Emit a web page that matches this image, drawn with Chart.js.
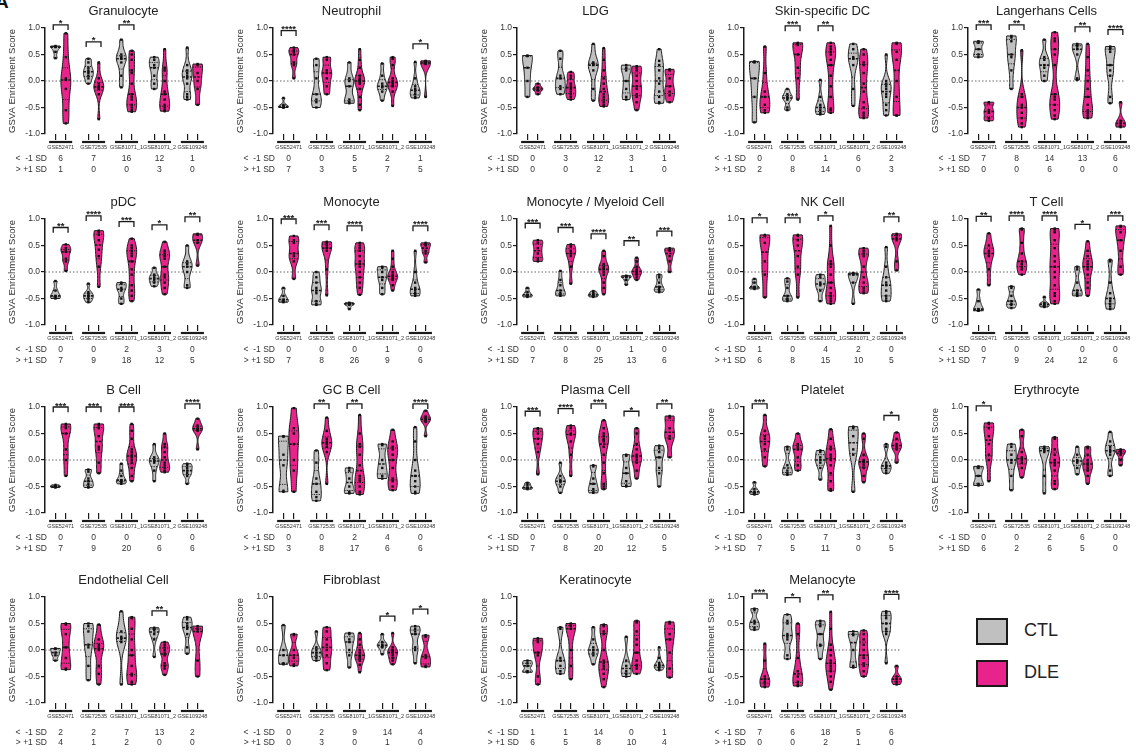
<!DOCTYPE html>
<html lang="en">
<head>
<meta charset="UTF-8">
<title>GSVA Enrichment Scores, CTL vs DLE</title>
<script src="https://cdn.jsdelivr.net/npm/chart.js"></script>
<style>
    body { margin: 0; width: 1136px; height: 752px; overflow: hidden; position: relative; background: #fff;
           font-family: "Liberation Sans", Arial, Helvetica, sans-serif; }
    canvas { position: absolute; }
    .tag { position: absolute; left: -5px; top: -9px; font-size: 19px; font-weight: bold; color: #111; }
    .key { position: absolute; left: 976px; width: 28px; height: 23px; border: 2.5px solid #1a1a1a; }
    .keyLabel { position: absolute; left: 1024px; font-size: 18px; color: #222; }
</style>
</head>
<body>
<div class="tag">A</div>
<div class="key" style="top:618px; background:#c0c0c0"></div>
<div class="keyLabel" style="top:620px">CTL</div>
<div class="key" style="top:660px; background:#e8238b"></div>
<div class="keyLabel" style="top:662px">DLE</div>

<script>
const titles = ['Granulocyte', 'Neutrophil', 'LDG', 'Skin-specific DC', 'Langerhans Cells',
    'pDC', 'Monocyte', 'Monocyte / Myeloid Cell', 'NK Cell', 'T Cell',
    'B Cell', 'GC B Cell', 'Plasma Cell', 'Platelet', 'Erythrocyte',
    'Endothelial Cell', 'Fibroblast', 'Keratinocyte', 'Melanocyte'];
const groups = ['GSE52471', 'GSE72535', 'GSE81071_1', 'GSE81071_2', 'GSE109248'];

// scores per panel, per dataset
const ctlScores = [
    [[0.66,0.65,0.64,0.55,0.43], [0.42,0.35,0.25,0.2,0.15,0.1,0.05,-0.05], [0.78,0.5,0.45,0.42,0.35,0.1,-0.12], [0.45,0.4,0.3,0.25,0.1,-0.05,-0.15], [0.63,0.3,0.2,0.15,0.1,0.05,-0.05,-0.25,-0.3,-0.35]],
    [[-0.32,-0.45,-0.48,-0.5,-0.5], [0.42,0.3,0.05,-0.25,-0.35,-0.4,-0.5], [0.35,0.05,0,-0.1,-0.35,-0.4,-0.42], [0.33,0.1,-0.05,-0.1,-0.12,-0.2,-0.37], [0.36,0.05,-0.1,-0.15,-0.2,-0.25,-0.3,-0.32]],
    [[0.48,0.47,0.25,0,-0.3], [0.57,0.42,0.1,0.05,-0.1,-0.15,-0.25], [0.7,0.35,0.32,0.3,0.2,-0.15,-0.37], [0.3,0.25,0.2,0,-0.15,-0.3,-0.35], [0.6,0.38,0.3,0.2,0.05,-0.05,-0.2,-0.3,-0.4,-0.42]],
    [[0.37,0.35,0.05,-0.3,-0.78], [-0.15,-0.25,-0.3,-0.32,-0.35,-0.5,-0.55], [0.02,-0.3,-0.45,-0.5,-0.55,-0.6,-0.63], [0.7,0.6,0.45,0.42,0.3,-0.15,-0.47], [0.5,0,-0.05,-0.1,-0.15,-0.25,-0.3,-0.45,-0.55,-0.65]],
    [[0.75,0.72,0.6,0.5,0.45], [0.85,0.82,0.75,0.5,0.45,0.2,-0.15], [0.78,0.45,0.4,0.3,0.25,0.1,0], [0.7,0.68,0.65,0.6,0.5,0.05,0.02], [0.65,0.62,0.6,0.55,0.3,0.2,0.1,-0.3,-0.42]],
    [[-0.17,-0.35,-0.45,-0.47,-0.5], [-0.22,-0.38,-0.42,-0.45,-0.48,-0.52,-0.57], [-0.2,-0.22,-0.3,-0.35,-0.5,-0.6], [0.08,-0.05,-0.1,-0.15,-0.2,-0.27], [0.5,0.2,0.15,0.1,0,-0.25,-0.3]],
    [[-0.3,-0.45,-0.52,-0.55,-0.57], [0,-0.1,-0.2,-0.3,-0.35,-0.4,-0.55,-0.6,-0.62], [-0.58,-0.6,-0.6,-0.62,-0.7], [0.1,0.08,0,-0.1,-0.15,-0.3,-0.42], [0.4,0,-0.2,-0.3,-0.35,-0.4,-0.42,-0.45]],
    [[-0.3,-0.38,-0.43,-0.45,-0.47], [0.02,-0.15,-0.25,-0.35,-0.4,-0.43,-0.45], [-0.36,-0.4,-0.43,-0.45,-0.47], [-0.07,-0.08,-0.1,-0.15,-0.24], [-0.05,-0.1,-0.2,-0.28,-0.32,-0.35,-0.38]],
    [[-0.13,-0.2,-0.28,-0.3,-0.32], [-0.12,-0.18,-0.3,-0.45,-0.5,-0.52,-0.55], [-0.05,-0.1,-0.2,-0.25,-0.35,-0.55], [-0.02,-0.03,-0.05,-0.2,-0.6], [0.47,0.1,-0.1,-0.2,-0.25,-0.35,-0.45,-0.5,-0.55]],
    [[-0.33,-0.55,-0.7,-0.73,-0.73], [-0.27,-0.3,-0.45,-0.55,-0.6,-0.62,-0.68], [-0.47,-0.58,-0.6,-0.62,-0.65,-0.66], [0.1,0.05,-0.2,-0.35,-0.4,-0.43,-0.45], [0.23,0.2,-0.2,-0.4,-0.5,-0.55,-0.6,-0.65,-0.7]],
    [[-0.47,-0.5,-0.5,-0.52], [-0.18,-0.22,-0.35,-0.4,-0.45,-0.5,-0.52], [-0.07,-0.2,-0.3,-0.38,-0.4,-0.42,-0.45], [0.3,0.05,0,-0.02,-0.05,-0.2,-0.4], [-0.07,-0.1,-0.15,-0.2,-0.25,-0.3,-0.45]],
    [[0.45,0.44,0.1,-0.1,-0.58,-0.6], [0.18,-0.05,-0.35,-0.45,-0.6,-0.7,-0.77], [-0.15,-0.2,-0.35,-0.5,-0.6,-0.63], [0.3,0.28,0,-0.15,-0.3,-0.35], [0.62,0.35,0,-0.2,-0.3,-0.4,-0.5,-0.6,-0.63]],
    [[-0.43,-0.47,-0.52,-0.53,-0.55], [-0.05,-0.3,-0.38,-0.4,-0.42,-0.5,-0.62], [-0.1,-0.12,-0.35,-0.45,-0.55,-0.6,-0.62], [0.1,0.08,-0.15,-0.25,-0.4,-0.48,-0.5], [0.27,0.22,0.15,0.05,-0.15,-0.25,-0.5]],
    [[-0.42,-0.55,-0.6,-0.62,-0.65], [0.25,0.2,-0.1,-0.2,-0.25,-0.28], [0.18,0.15,0.05,0,-0.05,-0.15,-0.37], [0.63,0.6,0.45,0.2,0.1,-0.6], [0.3,0.25,-0.05,-0.1,-0.12,-0.15,-0.2,-0.25]],
    [[-0.12,-0.15,-0.3,-0.45,-0.48], [0.3,0.25,0.1,0,-0.05,-0.3,-0.57], [0.25,0.22,0.2,0.15,-0.3,-0.63], [0.25,0.1,0,-0.02,-0.05,-0.15,-0.27], [0.53,0.35,0.25,0.2,0.15,0.1,-0.2,-0.3]],
    [[0.03,0.02,-0.05,-0.1,-0.2], [0.5,0.45,0.35,0.1,0.05,-0.3,-0.57], [0.73,0.35,0.25,0.2,0.15,-0.65], [0.42,0.4,0.38,0.3,0.2,-0.13], [0.62,0.58,0.5,0.45,0.4,0.3,0.05,-0.07]],
    [[0.47,0,-0.1,-0.25,-0.27], [0.35,0.05,0,-0.05,-0.1,-0.15,-0.2], [0.32,0.3,0.2,0.15,0,-0.1,-0.33], [0.3,0.15,0.1,0.08,0.05,-0.08], [0.45,0.4,0.35,0.3,0.05,0,-0.25]],
    [[-0.2,-0.25,-0.3,-0.4,-0.42], [0.43,0.4,-0.15,-0.2,-0.3,-0.4,-0.45], [0.43,0.2,0.05,0,-0.05,-0.1,-0.27], [0.25,-0.2,-0.3,-0.4,-0.45,-0.5], [0.05,-0.15,-0.25,-0.28,-0.3,-0.32,-0.35,-0.38]],
    [[0.78,0.75,0.55,0.5,0.42,0.38], [0.67,0.55,0.5,0.3,0.25,0.2,-0.1,-0.17], [0.55,0.5,0.45,0.3,0.1,0.08,-0.17], [0.35,0.3,0.28,0,-0.3,-0.33], [0.73,0.7,0.65,0.6,0.5,0.4,0.35,0.3,-0.25]]
];
const dleScores = [
    [[0.9,0.45,0.05,0.02,-0.15,-0.55,-0.8], [0.35,0.05,-0.05,-0.1,-0.12,-0.15,-0.25,-0.72], [0.57,0.5,0.4,0.2,0.15,-0.05,-0.25,-0.3,-0.35,-0.45,-0.5,-0.55,-0.58], [0.6,0.25,0.2,0,-0.2,-0.25,-0.35,-0.45,-0.5,-0.55,-0.57], [0.32,0.3,0.15,0,-0.15,-0.45]],
    [[0.63,0.58,0.55,0.5,0.35,0.3,0.05], [0.45,0.4,0.2,0.15,0.05,-0.1,-0.25], [0.6,0.4,0.25,0.1,0.05,0.02,0,-0.02,-0.05,-0.15,-0.3,-0.45,-0.55], [0.45,0.42,0.3,0.05,0,-0.05,-0.08,-0.1,-0.2,-0.47], [0.38,0.36,0.35,0.33,0.32,-0.3]],
    [[-0.05,-0.12,-0.15,-0.18,-0.25], [0.17,0.1,0.05,-0.05,-0.1,-0.15,-0.2,-0.25,-0.3,-0.35], [0.62,0.4,0.2,0.05,-0.05,-0.15,-0.25,-0.3,-0.35,-0.4,-0.45,-0.48], [0.28,0.25,0.2,0.1,0,-0.1,-0.15,-0.25,-0.3,-0.4,-0.55], [0.22,0.2,0.05,-0.1,-0.2,-0.27,-0.4]],
    [[0.65,0.15,-0.2,-0.3,-0.45,-0.55,-0.6], [0.72,0.7,0.68,0.5,0.25,0.05,-0.35], [0.72,0.65,0.6,0.55,0.5,0.4,0.3,0.1,-0.1,-0.3,-0.52,-0.55,-0.6], [0.6,0.5,0.35,0.3,0.15,-0.05,-0.2,-0.4,-0.5,-0.6,-0.65,-0.7], [0.72,0.7,0.55,0.4,0,-0.3,-0.65,-0.65]],
    [[-0.4,-0.42,-0.55,-0.6,-0.7,-0.75], [0.58,-0.25,-0.3,-0.45,-0.5,-0.6,-0.7,-0.8,-0.87], [0.92,0.8,0.75,0.6,0.5,0.3,-0.25,-0.3,-0.35,-0.45,-0.55,-0.65,-0.72], [0.7,0.45,0.2,0,-0.15,-0.3,-0.45,-0.55,-0.6,-0.65,-0.7], [-0.4,-0.75,-0.8,-0.85,-0.87]],
    [[0.52,0.45,0.4,0.38,0.25,0.2,0.02], [0.78,0.75,0.7,0.6,0.42,0.3,0.1,-0.28], [0.63,0.5,0.45,0.4,0.35,0.3,0.2,0.05,-0.05,-0.25,-0.35,-0.45,-0.55], [0.57,0.4,0.35,0.3,0.25,0.1,-0.05,-0.1,-0.2,-0.3,-0.42], [0.72,0.7,0.6,0.55,0.12]],
    [[0.68,0.6,0.55,0.35,0.3,0.2,-0.13], [0.57,0.55,0.5,0.45,0.4,0.05,-0.44], [0.55,0.5,0.45,0.4,0.3,0.2,0.15,0.1,0,-0.1,-0.2,-0.3,-0.43], [0.4,0.25,0.1,0,-0.05,-0.08,-0.1,-0.12,-0.15,-0.25,-0.35], [0.55,0.52,0.5,0.4,0.35,0.18]],
    [[0.6,0.55,0.45,0.35,0.25,0.2], [0.52,0.48,0.4,0.35,0.3,0.1,-0.22], [0.4,0.3,0.15,0.1,0.08,0.05,0,-0.05,-0.2,-0.3,-0.42], [0.27,0.2,0.1,0.05,0.02,0,-0.02,-0.05,-0.1,-0.15], [0.45,0.42,0.4,0.3,0.2,0]],
    [[0.7,0.68,0.55,0.2,-0.05,-0.48], [0.7,0.68,0.6,0.5,0.3,0.1,-0.05,-0.48], [0.87,0.5,0.2,0.15,0.1,-0.05,-0.2,-0.3,-0.4,-0.45,-0.5,-0.55,-0.6], [0.45,0.4,0.35,0.3,0.1,-0.1,-0.2,-0.3,-0.35,-0.4], [0.72,0.7,0.65,0.6,0.2,0.03]],
    [[0.73,0.5,0.4,0.35,0.3,0.05,-0.25], [0.82,0.8,0.55,0.35,0.2,0.15,0.1,0.05,-0.05], [0.82,0.8,0.75,0.6,0.45,0.3,0.2,0.1,0,-0.1,-0.25,-0.4,-0.45,-0.55,-0.6], [0.58,0.4,0.3,0.2,0.15,0.1,0.05,-0.05,-0.2,-0.3,-0.45], [0.87,0.85,0.75,0.6,0.4,0.1,-0.05]],
    [[0.68,0.65,0.6,0.5,0.2,0,-0.3], [0.68,0.65,0.6,0.45,0.25,0.2,-0.05,-0.25], [0.68,0.55,0.4,0.2,0.15,0.1,0.05,0,-0.05,-0.15,-0.3,-0.4], [0.5,0.3,0.25,0.15,0.05,-0.05,-0.1,-0.15,-0.2,-0.23], [0.78,0.65,0.6,0.58,0.55,0.2]],
    [[0.98,0.6,0.5,0.3,0,-0.2,-0.6], [0.8,0.55,0.4,0.35,0.3,0.25,0.15,-0.45], [0.85,0.5,0.3,0.25,0.1,-0.1,-0.3,-0.35,-0.4,-0.5,-0.6,-0.65], [0.57,0.35,0.25,0.2,0.1,0,-0.15,-0.35,-0.4,-0.5,-0.57], [0.93,0.82,0.78,0.76,0.72,0.45]],
    [[0.6,0.58,0.5,0.4,0.3,0.15,-0.27], [0.65,0.6,0.5,0.48,0.35,0.1,-0.3], [0.75,0.6,0.5,0.45,0.4,0.38,0.35,0.25,0.1,-0.05,-0.25,-0.45,-0.5,-0.55], [0.6,0.5,0.3,0.2,0.1,0.05,0,-0.05,-0.2,-0.35], [0.83,0.8,0.6,0.45,0.4,0.05]],
    [[0.85,0.55,0.45,0.4,0.3,0.2,0.05,-0.12], [0.5,0.3,0.25,0.2,0.05,-0.1,-0.2], [0.58,0.4,0.25,0.2,0.1,0.05,0,-0.1,-0.25,-0.4,-0.55,-0.58], [0.5,0.4,0.1,0,-0.02,-0.05,-0.1,-0.15,-0.3,-0.42], [0.52,0.4,0.3,0.25,0.2,-0.05]],
    [[0.7,0.68,0.6,0.45,0.3,0.1,0,-0.4], [0.57,0.45,0.15,0.05,0,-0.05,-0.15,-0.33], [0.43,0.4,0.2,0.1,0,-0.05,-0.1,-0.2,-0.4,-0.45,-0.55], [0.25,0.22,0.1,0,-0.05,-0.1,-0.15,-0.2,-0.3,-0.45], [0.2,0.17,0.15,0.1,0,-0.1]],
    [[0.5,0.48,0.3,0.05,-0.15,-0.35,-0.37], [0.48,0.2,0.1,0.05,0,-0.3,-0.45,-0.65], [0.62,0.6,0.4,0.2,0,-0.1,-0.3,-0.45,-0.48,-0.6,-0.65], [0.15,0.1,0.05,0,-0.05,-0.1,-0.25,-0.3,-0.35,-0.47], [0.45,0.4,0.35,-0.2,-0.5]],
    [[0.3,0.28,0,-0.1,-0.15,-0.27,-0.3], [0.43,0.35,0.2,0.1,0,-0.1,-0.25,-0.38], [0.32,0.2,0.1,0,-0.05,-0.1,-0.12,-0.15,-0.2,-0.28,-0.42], [0.32,0.05,0,-0.02,-0.05,-0.1,-0.15,-0.2,-0.27], [0.28,0.25,-0.1,-0.15,-0.3,-0.32]],
    [[0.22,0.2,0.15,-0.05,-0.1,-0.5,-0.65], [0.5,0.47,0.45,0.4,0,-0.3,-0.55], [0.48,0.45,0.35,0.3,0,-0.2,-0.25,-0.3,-0.35,-0.45,-0.55,-0.7], [0.55,0.52,0.35,0.2,0.1,-0.05,-0.2,-0.28,-0.3,-0.35,-0.45], [0.53,0.5,0.3,0.2,-0.05,-0.35,-0.52]],
    [[0.12,-0.2,-0.5,-0.55,-0.6,-0.65,-0.7], [0.5,0.3,-0.15,-0.4,-0.5,-0.6,-0.65,-0.68], [0.72,0.4,0.1,0,-0.1,-0.2,-0.25,-0.3,-0.35,-0.4,-0.5,-0.6,-0.75], [0.37,0.3,0.2,0.1,0,-0.1,-0.15,-0.25,-0.3,-0.4,-0.5], [-0.3,-0.5,-0.55,-0.6,-0.65]]
];
const stars = [
    ['*', '*', '**', '', ''], ['****', '', '', '', '*'], ['', '', '', '', ''], ['', '***', '**', '', ''], ['***', '**', '', '**', '****'],
    ['**', '****', '***', '*', '**'], ['***', '***', '****', '', '****'], ['***', '***', '****', '**', '***'], ['*', '***', '*', '', '**'], ['**', '****', '****', '*', '***'],
    ['***', '***', '****', '', '****'], ['', '**', '**', '', '****'], ['***', '****', '***', '*', '**'], ['***', '', '', '', '*'], ['*', '', '', '', ''],
    ['', '', '', '**', ''], ['', '', '', '*', '*'], ['', '', '', '', ''], ['***', '*', '**', '', '****']
];
const belowSD = [
    [6, 7, 16, 12, 1], [0, 0, 5, 2, 1], [0, 3, 12, 3, 1], [0, 0, 1, 6, 2], [7, 8, 14, 13, 6],
    [0, 0, 2, 3, 0], [0, 0, 0, 1, 0], [0, 0, 0, 1, 0], [1, 0, 4, 2, 0], [0, 0, 0, 0, 0],
    [0, 0, 0, 0, 0], [0, 0, 2, 4, 0], [0, 0, 0, 0, 0], [0, 0, 7, 3, 0], [0, 0, 2, 6, 0],
    [2, 2, 7, 13, 2], [0, 2, 9, 14, 4], [1, 1, 14, 0, 1], [7, 6, 18, 5, 6]
];
const aboveSD = [
    [1, 0, 0, 3, 0], [7, 3, 5, 7, 5], [0, 0, 2, 1, 0], [2, 8, 14, 0, 3], [0, 0, 6, 0, 0],
    [7, 9, 18, 12, 5], [7, 8, 26, 9, 6], [7, 8, 25, 13, 6], [6, 8, 15, 10, 5], [7, 9, 24, 12, 6],
    [7, 9, 20, 6, 6], [3, 8, 17, 6, 6], [7, 8, 20, 12, 5], [7, 5, 11, 0, 5], [6, 2, 6, 5, 0],
    [4, 1, 2, 0, 0], [0, 3, 0, 1, 0], [6, 5, 8, 10, 4], [0, 0, 2, 1, 0]
];

const FONT = '"Liberation Sans", Arial, Helvetica, sans-serif';
Chart.defaults.font.family = FONT;
Chart.defaults.color = '#333';

const ctlX = [0.95, 3.95, 6.95, 9.95, 12.95];
const dleX = ctlX.map(v => v + 0.95);
const xMax = 14.3;
const colLeft = [0, 228, 472, 699, 923];
const rowTop = [0, 191, 379, 569];
const CTL_FILL = '#c0c0c0';
const DLE_FILL = '#e8238b';
const HALF = 0.45;   // half width of the widest part of a violin, x units

function quantile(s, q) {
    const p = (s.length - 1) * q, i = Math.floor(p), f = p - i;
    return i + 1 < s.length ? s[i] + f * (s[i + 1] - s[i]) : s[i];
}

function density(s, h, y) {
    let d = 0;
    for (const v of s) { const z = (y - v) / h; d += Math.exp(-0.5 * z * z); }
    return d;
}

function drawViolin(ctx, xs, ys, vals, xc, fill) {
    const s = vals.slice().sort((a, b) => a - b);
    const n = s.length, lo = s[0], hi = s[n - 1];
    const mean = s.reduce((a, b) => a + b, 0) / n;
    const sd = Math.sqrt(s.reduce((a, b) => a + (b - mean) * (b - mean), 0) / Math.max(1, n - 1));
    const h = Math.max(0.03, 0.6 * sd * Math.pow(n, -0.2));
    const steps = 40, prof = [];
    for (let j = 0; j <= steps; j++) {
        const y = lo + (hi - lo) * j / steps;
        prof.push([y, density(s, h, y)]);
    }
    const maxD = Math.max(...prof.map(p => p[1]));
    const w = d => HALF * d / maxD;

    ctx.beginPath();
    prof.forEach(([y, d], j) => {
        const px = xs.getPixelForValue(xc + w(d)), py = ys.getPixelForValue(y);
        if (j) ctx.lineTo(px, py); else ctx.moveTo(px, py);
    });
    for (let j = steps; j >= 0; j--) {
        const [y, d] = prof[j];
        ctx.lineTo(xs.getPixelForValue(xc - w(d)), ys.getPixelForValue(y));
    }
    ctx.closePath();
    ctx.fillStyle = fill;
    ctx.fill();
    ctx.lineWidth = 1;
    ctx.strokeStyle = '#1a1a1a';
    ctx.stroke();

    // quartiles dotted, median dashed
    [[0.25, 1, [1.2, 1.2]], [0.5, 1.6, [2.5, 1.2]], [0.75, 1, [1.2, 1.2]]].forEach(([q, lw, dash]) => {
        const y = quantile(s, q), hw = w(density(s, h, y));
        ctx.save();
        ctx.setLineDash(dash);
        ctx.lineWidth = lw;
        ctx.beginPath();
        ctx.moveTo(xs.getPixelForValue(xc - hw), ys.getPixelForValue(y));
        ctx.lineTo(xs.getPixelForValue(xc + hw), ys.getPixelForValue(y));
        ctx.stroke();
        ctx.restore();
    });
}

function panelPlugin(k, row) {
    const sd1 = row === 3 ? 30 : 25, sd2 = row === 3 ? 40 : 36;
    return {
        id: 'violins' + k,
        beforeDatasetsDraw(chart) {
            const { ctx, scales: { x: xs, y: ys } } = chart;
            ctx.save();
            ctx.setLineDash([1.5, 2]);
            ctx.strokeStyle = '#666';
            ctx.lineWidth = 1;
            ctx.beginPath();
            ctx.moveTo(xs.getPixelForValue(0), ys.getPixelForValue(0));
            ctx.lineTo(xs.getPixelForValue(xMax), ys.getPixelForValue(0));
            ctx.stroke();
            ctx.setLineDash([]);
            for (let i = 0; i < 5; i++) {
                drawViolin(ctx, xs, ys, ctlScores[k][i], ctlX[i], CTL_FILL);
                drawViolin(ctx, xs, ys, dleScores[k][i], dleX[i], DLE_FILL);
            }
            ctx.restore();
        },
        afterDraw(chart) {
            const { ctx, chartArea: a, scales: { x: xs, y: ys } } = chart;
            ctx.save();
            ctx.strokeStyle = '#1a1a1a';
            ctx.textAlign = 'center';
            for (let i = 0; i < 5; i++) {
                const mid = (ctlX[i] + dleX[i]) / 2, xm = xs.getPixelForValue(mid);
                if (stars[k][i]) {
                    const top = Math.min(1.06, Math.max(...ctlScores[k][i], ...dleScores[k][i]) + 0.32);
                    const yb = ys.getPixelForValue(top), yl = ys.getPixelForValue(top - 0.1);
                    const x1 = xs.getPixelForValue(ctlX[i] - 0.2), x2 = xs.getPixelForValue(dleX[i] + 0.2);
                    ctx.lineWidth = 1.3;
                    ctx.beginPath();
                    ctx.moveTo(x1, yl); ctx.lineTo(x1, yb); ctx.lineTo(x2, yb); ctx.lineTo(x2, yl);
                    ctx.stroke();
                    ctx.fillStyle = '#1a1a1a';
                    ctx.font = 'bold 9.5px ' + FONT;
                    ctx.textBaseline = 'alphabetic';
                    ctx.fillText(stars[k][i], xm, yb + 1.5);
                }
                ctx.lineWidth = 2.2;
                ctx.beginPath();
                ctx.moveTo(xs.getPixelForValue(mid - 1.05), a.bottom + 8);
                ctx.lineTo(xs.getPixelForValue(mid + 1.05), a.bottom + 8);
                ctx.stroke();
                ctx.fillStyle = '#333';
                ctx.textBaseline = 'middle';
                ctx.font = '5.5px ' + FONT;
                ctx.fillText(groups[i], xm, a.bottom + 13.5);
                ctx.font = '8.5px ' + FONT;
                ctx.fillText(String(belowSD[k][i]), xm, a.bottom + sd1);
                ctx.fillText(String(aboveSD[k][i]), xm, a.bottom + sd2);
            }
            ctx.textAlign = 'right';
            ctx.fillText('<  -1 SD', a.left + 2, a.bottom + sd1);
            ctx.fillText('> +1 SD', a.left + 2, a.bottom + sd2);
            ctx.restore();
        }
    };
}

titles.forEach((title, k) => {
    const row = Math.floor(k / 5), col = k % 5;
    const canvas = document.createElement('canvas');
    canvas.width = 210;
    canvas.height = 185;
    canvas.style.left = colLeft[col] + 'px';
    canvas.style.top = rowTop[row] + 'px';
    document.body.appendChild(canvas);

    const points = [];
    for (let i = 0; i < 5; i++) {
        ctlScores[k][i].forEach(v => points.push({ x: ctlX[i], y: v }));
        dleScores[k][i].forEach(v => points.push({ x: dleX[i], y: v }));
    }

    new Chart(canvas, {
        type: 'scatter',
        data: {
            datasets: [{
                data: points,
                pointStyle: 'rect',
                pointRadius: 1.7,
                pointBackgroundColor: '#111',
                pointBorderWidth: 0
            }]
        },
        options: {
            responsive: false,
            animation: false,
            devicePixelRatio: 1,
            layout: { padding: { left: 0, right: 8, top: 0, bottom: 0 } },
            plugins: {
                legend: { display: false },
                tooltip: { enabled: false },
                title: {
                    display: true, text: title, fullSize: false, color: '#222',
                    font: { size: 13, weight: 'normal' }, padding: { top: 4, bottom: 8.4 }
                }
            },
            scales: {
                x: {
                    type: 'linear', min: 0, max: xMax,
                    afterBuildTicks: ax => { ax.ticks = ctlX.concat(dleX).sort((a, b) => a - b).map(v => ({ value: v })); },
                    afterFit: ax => { ax.height = 51; },
                    ticks: { display: false },
                    grid: { drawOnChartArea: false, drawTicks: true, tickLength: 6, color: '#1a1a1a', lineWidth: 1.2 },
                    border: { display: false }
                },
                y: {
                    min: -1, max: 1,
                    afterFit: ax => { ax.width = 45; },
                    ticks: { stepSize: 0.5, padding: 1, font: { size: 8.5 }, color: '#333', callback: v => v.toFixed(1) },
                    grid: { drawOnChartArea: false, drawTicks: true, tickLength: 4, color: '#1a1a1a', lineWidth: 1.2 },
                    border: { display: true, color: '#1a1a1a', width: 1.5 },
                    title: { display: true, text: 'GSVA Enrichment Score', font: { size: 9.5 }, color: '#333', padding: { top: 7, bottom: 0 } }
                }
            }
        },
        plugins: [panelPlugin(k, row)]
    });
});
</script>
</body>
</html>
